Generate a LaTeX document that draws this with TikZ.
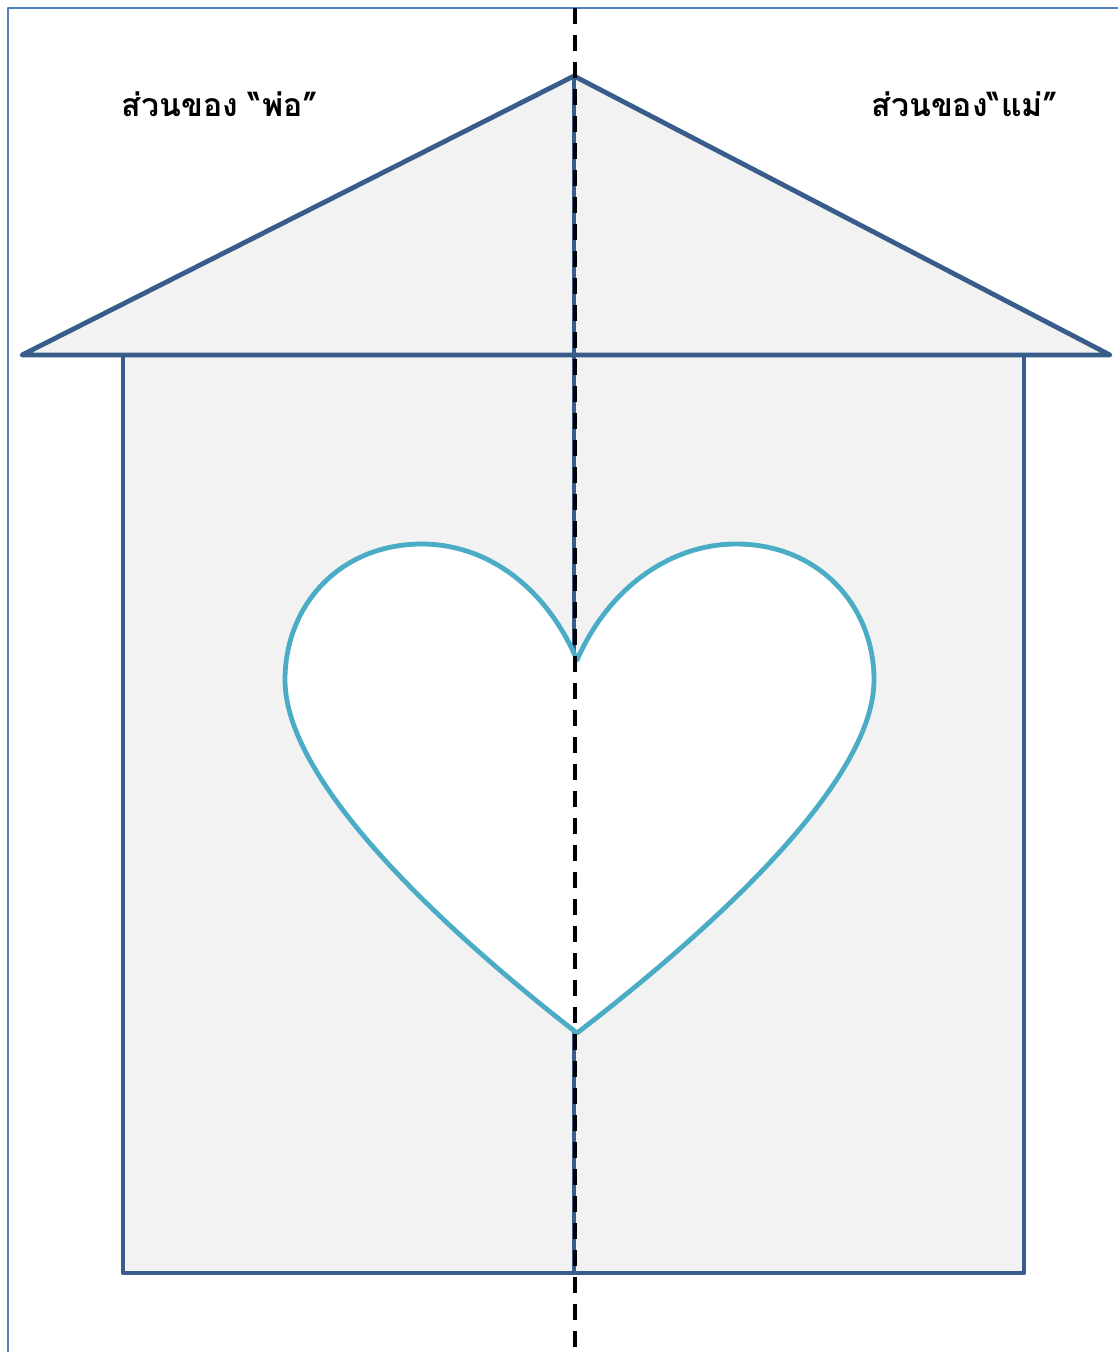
\documentclass[tikz,border=0pt]{standalone}
\usepackage{fontspec}
\newfontfamily\thaifont[Script=Thai]{Loma}
\usetikzlibrary{positioning}
\definecolor{houseblue}{RGB}{56,93,138}
\definecolor{frameblue}{RGB}{79,129,189}
\definecolor{heartcyan}{RGB}{75,172,198}
\definecolor{wallgray}{RGB}{242,242,242}

\begin{document}
\begin{tikzpicture}[x=1pt,y=-1pt,line join=round,
  outline/.style={houseblue,line width=4.8pt},
  lbl/.style={font=\thaifont\bfseries\fontsize{32}{36}\selectfont,inner sep=0pt}]
 \useasboundingbox (0,0) rectangle (1118,1352);
 \clip (0,0) rectangle (1118,1352);
 \draw[frameblue,line width=2.5pt] (8,1400) -- (8,8) -- (1200,8);
 \coordinate (apex) at (574,76);
 \coordinate (floor) at (574,1273);
 % walls and roof
 \filldraw[outline,fill=wallgray] (123,355) rectangle (1024,1273);
 \filldraw[outline,fill=wallgray] (22,355) -- (apex) -- (1110,355) -- cycle;
 \draw[outline] (apex) -- (floor);
 % heart
 \coordinate (notch) at (577,660);
 \coordinate (tip) at (577,1033);
 \filldraw[heartcyan,line width=4.8pt,fill=white]
  (notch) .. controls (545,585) and (485,544) .. (422,544)
  .. controls (340,544) and (285,605) .. (285,680)
  .. controls (285,790) and (470,950) .. (tip)
  .. controls (685,950) and (874,790) .. (874,680)
  .. controls (874,605) and (818,544) .. (736,544)
  .. controls (673,544) and (610,585) .. (notch) -- cycle;
 \draw[black,line width=3.5pt,dash pattern=on 16pt off 11pt] (575,8) -- (575,1352);
 \node[lbl] (fatherlbl) at (220,104) {ส่วนของ “พ่อ”};
 \node[lbl] (motherlbl) at (965,104) {ส่วนของ“แม่”};
\end{tikzpicture}
\end{document}
